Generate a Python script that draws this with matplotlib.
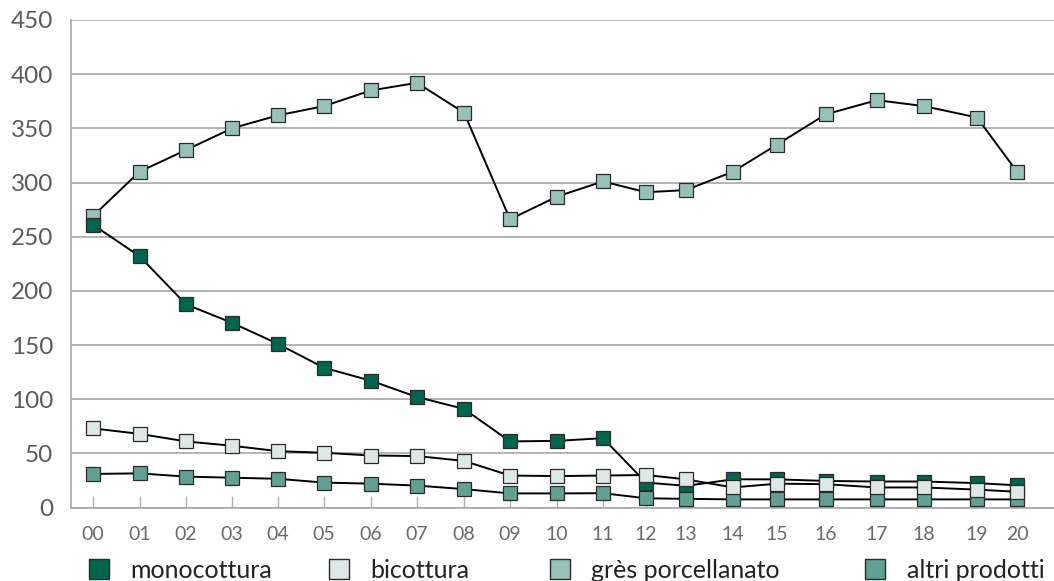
import matplotlib
matplotlib.use('Agg')
import matplotlib.pyplot as plt
from matplotlib.lines import Line2D

plt.rcParams['font.family'] = ['Lato', 'DejaVu Sans']

# Data
years = ['00', '01', '02', '03', '04', '05', '06', '07', '08', '09', '10',
         '11', '12', '13', '14', '15', '16', '17', '18', '19', '20']
# category positions along the axis (the reference spaces them unevenly)
year_pos = [93, 139.5, 186, 232, 278, 324, 371, 417, 464, 510, 557,
            603, 646, 686, 733, 777, 826, 877, 924, 977, 1017]

monocottura = [261, 232, 187.5, 170.5, 151, 129, 117, 102, 91, 61, 61.5,
               64, 23, 20, 26, 26, 24.5, 24, 24, 22.5, 20.5]
bicottura = [73, 68, 61, 57, 52, 50.5, 48, 47.5, 43, 29.5, 29,
             29.5, 30, 26, 18.5, 22, 21.5, 18.5, 18.5, 16.5, 14.5]
gres = [269, 310, 330, 350, 362, 370.5, 385, 392, 364.5, 266, 287,
        301, 291, 293, 310, 335, 363, 376, 370.5, 360, 310]
altri = [31, 31.5, 28.5, 27.5, 26.5, 23, 22, 20.2, 17, 13, 13,
         13.2, 8.5, 8, 7.5, 7.5, 7.5, 7.5, 7.5, 7.5, 7.5]

labels = ['monocottura', 'bicottura', 'grès porcellanato', 'altri prodotti']
colors = ['#00644f', '#dde8e6', '#97c0b9', '#62a095']

W, H = 1054, 581
fig = plt.figure(figsize=(W / 100, H / 100), dpi=100)
ax = fig.add_axes([71 / W, (H - 507.5) / H, (W - 71) / W, (507.5 - 20) / H])

edge = '#2a2a2a'
ms = 10
series = [(gres, colors[2], 2), (monocottura, colors[0], 3),
          (altri, colors[3], 4), (bicottura, colors[1], 5)]
for vals, col, z in series:
    ax.plot(year_pos, vals, color='black', lw=1.4, marker='s', ms=ms,
            mfc=col, mec=edge, mew=0.9, zorder=z)

ax.set_xlim(71, W)
ax.set_ylim(0, 450)
ax.set_yticks(range(0, 451, 50))
ax.set_xticks(year_pos)
ax.set_xticklabels(years)

grid_c = '#a8a8a8'
ax.yaxis.grid(True, color=grid_c, lw=1.2)
ax.set_axisbelow(True)
for s in ['top', 'right']:
    ax.spines[s].set_visible(False)
ax.spines['left'].set_color(grid_c)
ax.spines['left'].set_linewidth(1.2)
ax.spines['bottom'].set_color(grid_c)
ax.spines['bottom'].set_linewidth(1.2)

ax.tick_params(axis='y', length=0, pad=13, labelsize=17.5, labelcolor='#5a5a5a')
ax.tick_params(axis='x', direction='in', length=8.5, width=1, color='#b0b0b0',
               pad=13, labelsize=14, labelcolor='#6a6a6a')

# Legend entries, placed along the bottom
leg_x = [86.5, 326.5, 547, 863]
for lab, col, lx in zip(labels, colors, leg_x):
    h = Line2D([], [], ls='none', marker='s', ms=15, mfc=col, mec=edge, mew=1)
    fig.legend(handles=[h], labels=[lab], loc='center left',
               bbox_to_anchor=(lx / W, 1 - 570 / H), frameon=False,
               fontsize=18, handlelength=1.0, handletextpad=0.75,
               borderpad=0, borderaxespad=0, labelcolor='#222222')

fig.savefig('out.png', dpi=100)
